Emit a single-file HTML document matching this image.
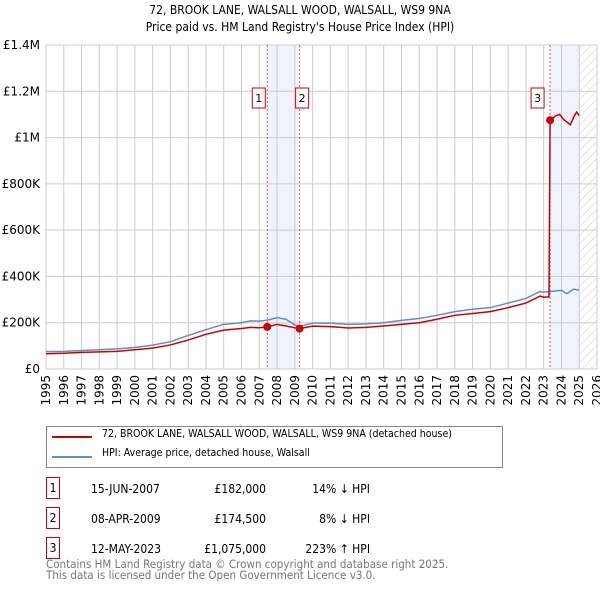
<!DOCTYPE html>
<html><head><meta charset="utf-8"><style>
body{margin:0;width:600px;height:590px;background:#fff;font-family:"DejaVu Sans","Liberation Sans",sans-serif;overflow:hidden;position:relative}
.t{position:absolute;font-size:12px;color:#000;white-space:nowrap;font-family:"DejaVu Sans Condensed","DejaVu Sans",sans-serif;font-stretch:condensed}
.box{position:absolute;border:1px solid #c00;width:12px;height:20px;font-size:12px;text-align:center;line-height:20px;font-family:"DejaVu Sans Condensed","DejaVu Sans",sans-serif}
</style></head><body>
<div class="t" style="left:0;width:600px;text-align:center;top:2px;line-height:17px">72, BROOK LANE, WALSALL WOOD, WALSALL, WS9 9NA<br>Price paid vs. HM Land Registry's House Price Index (HPI)</div>
<svg id="c" width="600" height="410" style="position:absolute;left:0;top:0"></svg>
<div style="position:absolute;left:46px;top:426px;width:455px;height:40px;border:1px solid #888">
<div style="position:absolute;left:5px;top:9px;width:40px;border-top:2px solid #c00"></div>
<div class="t" style="left:55px;top:1px;font-size:10.5px">72, BROOK LANE, WALSALL WOOD, WALSALL, WS9 9NA (detached house)</div>
<div style="position:absolute;left:5px;top:29px;width:40px;border-top:2px solid #5b8fd0"></div>
<div class="t" style="left:55px;top:20px;font-size:10.5px">HPI: Average price, detached house, Walsall</div>
</div>
<div>
<div class="box" style="left:46px;top:477px">1</div><div class="t" style="left:91px;top:482px">15-JUN-2007</div><div class="t" style="left:206px;top:482px;width:60px;text-align:right">£182,000</div><div class="t" style="left:296px;top:482px;width:74px;text-align:right">14% ↓ HPI</div>
<div class="box" style="left:46px;top:507px">2</div><div class="t" style="left:91px;top:512px">08-APR-2009</div><div class="t" style="left:206px;top:512px;width:60px;text-align:right">£174,500</div><div class="t" style="left:296px;top:512px;width:74px;text-align:right">8% ↓ HPI</div>
<div class="box" style="left:46px;top:537px">3</div><div class="t" style="left:91px;top:542px">12-MAY-2023</div><div class="t" style="left:196px;top:542px;width:70px;text-align:right">£1,075,000</div><div class="t" style="left:296px;top:542px;width:74px;text-align:right">223% ↑ HPI</div>
</div>
<div class="t" style="left:46px;top:559px;color:#777;line-height:11px;font-size:11.5px">Contains HM Land Registry data © Crown copyright and database right 2025.<br>This data is licensed under the Open Government Licence v3.0.</div>
<script>
const hpiYears=[1995,1996,1997,1998,1999,2000,2001,2002,2003,2004,2005,2006,2006.5,2007,2007.5,2008,2008.5,2009,2009.3,2010,2011,2012,2013,2014,2015,2016,2017,2018,2019,2020,2021,2022,2022.8,2023,2023.4,2024,2024.3,2024.7,2025];
const hpiValues=[75,76,80,83,87,93,103,118,145,170,193,200,208,207,212,222,215,190,185,198,198,193,195,200,210,218,232,248,258,265,285,305,335,332,335,340,325,345,340];
const redYears=[1995,1996,1997,1998,1999,2000,2001,2002,2003,2004,2005,2006,2006.5,2007,2007.45,2008,2008.5,2009,2009.27,2010,2011,2012,2013,2014,2015,2016,2017,2018,2019,2020,2021,2022,2022.8,2023,2023.3,2023.36,2023.7,2023.9,2024.1,2024.5,2024.7,2024.85,2025];
const redValues=[66,68,72,74,76,83,90,104,125,150,168,175,180,178,182,193,186,178,174.5,185,183,177,180,186,193,200,215,232,240,248,265,285,315,310,312,1075,1095,1100,1080,1055,1090,1110,1095];
const saleYears=[2007.45,2009.27,2023.36];
const saleValues=[182,174.5,1075];
const yTicks=[0,200,400,600,800,1000,1200,1400];
const yLabels=["£0","£200K","£400K","£600K","£800K","£1M","£1.2M","£1.4M"];
const xTicks=[1995,1996,1997,1998,1999,2000,2001,2002,2003,2004,2005,2006,2007,2008,2009,2010,2011,2012,2013,2014,2015,2016,2017,2018,2019,2020,2021,2022,2023,2024,2025,2026];
const X0=46,X1=597,Y0=369,Y1=45;
const xs=y=>X0+(y-1995)/(2026-1995)*(X1-X0);
const ys=v=>Y0-v/1400*(Y0-Y1);
const svg=document.getElementById('c');const NS='http://www.w3.org/2000/svg';
function mk(t,a,name){const e=document.createElementNS(NS,t);for(const k in a)e.setAttribute(k,a[k]);


svg.appendChild(e);return e;}
mk('rect',{x:xs(2007.45),y:Y1,width:xs(2009.27)-xs(2007.45),height:Y0-Y1,fill:'#eef3fc'},'shade-1-2');
mk('rect',{x:xs(2023.36),y:Y1,width:xs(2025)-xs(2023.36),height:Y0-Y1,fill:'#eef3fc'},'shade-3');
const d=mk('defs',{},'defs');d.innerHTML='<pattern id="h" width="6" height="6" patternUnits="userSpaceOnUse" patternTransform="rotate(45)"><line x1="0" y1="0" x2="0" y2="6" stroke="#ccc" stroke-width="1"/></pattern>';
mk('rect',{x:xs(2025),y:Y1,width:X1-xs(2025),height:Y0-Y1,fill:'url(#h)'},'future-hatch');
xTicks.forEach(t=>{mk('line',{x1:xs(t),x2:xs(t),y1:Y1,y2:Y0,stroke:'#ccc'},'x-grid');
const l=mk('text',{x:0,y:0,'font-size':12,'text-anchor':'end',transform:`translate(${xs(t)+4},${Y0+6}) rotate(-90)`,'font-family':'DejaVu Sans,sans-serif'},'x-tick-label');l.textContent=t;});
yTicks.forEach((t,i)=>{mk('line',{x1:X0,x2:X1,y1:ys(t),y2:ys(t),stroke:'#ccc'},'y-grid');
const l=mk('text',{x:X0-6,y:ys(t)+4,'font-size':12,'text-anchor':'end','font-family':'DejaVu Sans,sans-serif'},'y-tick-label');l.textContent=yLabels[i];});
mk('rect',{x:X0,y:Y1,width:X1-X0,height:Y0-Y1,fill:'none',stroke:'#ccc'},'plot-border');
saleYears.forEach(s=>mk('line',{x1:xs(s),x2:xs(s),y1:Y1,y2:Y0,stroke:'#e55','stroke-dasharray':'2,2'},'sale-line'));
mk('polyline',{points:hpiYears.map((y,i)=>xs(y)+','+ys(hpiValues[i])).join(' '),fill:'none',stroke:'#5b8fd0','stroke-width':1.5},'hpi-line');
mk('polyline',{points:redYears.map((y,i)=>xs(y)+','+ys(redValues[i])).join(' '),fill:'none',stroke:'#c00','stroke-width':1.5},'price-line');
saleYears.forEach((s,i)=>{mk('circle',{cx:xs(s),cy:ys(saleValues[i]),r:4,fill:'#c00'},'sale-point');
const bx=xs(s)-(i==0?9:i==1?-2:13);
mk('rect',{x:bx-6,y:88,width:13,height:20,fill:'#fff',stroke:'#c00'},'sale-marker-box');
const t=mk('text',{x:bx+0.5,y:102,'font-size':11,'text-anchor':'middle','font-family':'DejaVu Sans,sans-serif'},'sale-marker-label');t.textContent=i+1;});
</script>
</body></html>
